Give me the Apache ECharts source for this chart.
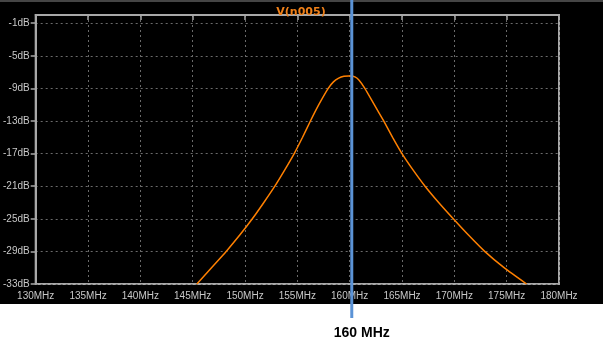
<!DOCTYPE html>
<html>
<head>
<meta charset="utf-8">
<script src="https://cdn.jsdelivr.net/npm/echarts@6/dist/echarts.min.js"></script>
<style>
  html, body { margin: 0; padding: 0; background: #fff; }
  #main { width: 605px; height: 353px; }
</style>
</head>
<body>
<div id="main"></div>
<script>
// Trace V(n005): frequency (MHz) vs gain (dB)
const freqs = [145.4, 146.8, 148.2, 149.5, 150.7, 151.8, 152.85, 153.8, 154.7, 155.5, 156.25, 157.05,
               157.95, 158.45, 158.95, 159.45, 159.9, 160.1, 160.5, 160.9, 161.45, 162.35, 163.25,
               164.1, 165.0, 166.05, 167.2, 168.5, 169.9, 171.35, 172.9, 174.75, 176.9];
const gains = [-33, -31, -29, -27, -25, -23, -21, -19, -17, -15, -13, -11,
               -9, -8.2, -7.75, -7.52, -7.48, -7.48, -7.6, -8.0, -9, -11, -13,
               -15, -17, -19, -21, -23, -25, -27, -29, -31, -33];

const xMin = 130, xMax = 180, xStep = 5;
const yMin = -33, yMax = 0, yStep = 4;

const traceName = 'V(n005)';
const cursorFreq = 160.2;
const cursorLabel = '160 MHz';

const chart = echarts.init(document.getElementById('main'));

const option = {
    backgroundColor: '#000',
    animation: false,
    title: {
        text: traceName,
        left: 296,
        top: 2,
        textAlign: 'center',
        textStyle: { color: '#f08018', fontSize: 11, fontWeight: 'bold', fontFamily: 'DejaVu Sans' }
    },
    grid: {
        left: 32, right: 46, top: 15, bottom: 69,
        show: true,
        borderColor: '#a8a8a8',
        borderWidth: 2,
        backgroundColor: 'transparent'
    },
    xAxis: {
        type: 'value',
        min: xMin, max: xMax, interval: xStep,
        axisLine: { show: true, lineStyle: { color: '#a8a8a8', width: 2 } },
        axisTick: { show: true, length: 5, lineStyle: { color: '#a8a8a8', width: 1.5 } },
        axisLabel: {
            color: '#c8c8c8', fontSize: 10, fontFamily: 'Liberation Sans', margin: 7,
            formatter: v => v + 'MHz'
        },
        splitLine: { show: true, lineStyle: { color: '#6a6a6a', type: [2, 3], width: 1 } }
    },
    yAxis: {
        type: 'value',
        min: yMin, max: yMax, interval: yStep,
        axisLine: { show: true, lineStyle: { color: '#a8a8a8', width: 2 } },
        axisTick: { show: true, length: 5, lineStyle: { color: '#a8a8a8', width: 1.5 } },
        axisLabel: {
            color: '#c8c8c8', fontSize: 10, fontFamily: 'Liberation Sans', margin: 6,
            showMaxLabel: false,
            formatter: v => v + 'dB'
        },
        splitLine: { show: true, lineStyle: { color: '#6a6a6a', type: [2, 3], width: 1 } }
    },
    series: [{
        name: traceName,
        type: 'line',
        data: freqs.map((f, i) => [f, gains[i]]),
        showSymbol: false,
        smooth: 0.2,
        clip: true,
        lineStyle: { color: '#ff8000', width: 1.5 },
        z: 3
    }]
};

chart.setOption(option);

// white strip under the plot window + cursor line and its label
const cx = chart.convertToPixel({ xAxisIndex: 0 }, cursorFreq);
chart.setOption({
    graphic: [
        {
            type: 'rect', z: 0,
            shape: { x: 0, y: 304, width: 605, height: 49 },
            style: { fill: '#fff' }
        },
        {
            type: 'rect', z: 0,
            shape: { x: 603, y: 0, width: 2, height: 304 },
            style: { fill: '#fff' }
        },
        {
            type: 'line', z: 0,
            shape: { x1: 0, y1: 1, x2: 603, y2: 1 },
            style: { stroke: '#8a8a8a', lineWidth: 1 }
        },
        {
            type: 'line', z: 100,
            shape: { x1: cx, y1: 0, x2: cx, y2: 318 },
            style: { stroke: '#5b93d6', lineWidth: 3 }
        },
        {
            type: 'text', z: 100,
            x: cx + 10, y: 333,
            style: {
                text: cursorLabel,
                fill: '#000',
                font: 'bold 14px "Liberation Sans"',
                align: 'center',
                verticalAlign: 'middle'
            }
        }
    ]
});
</script>
</body>
</html>
